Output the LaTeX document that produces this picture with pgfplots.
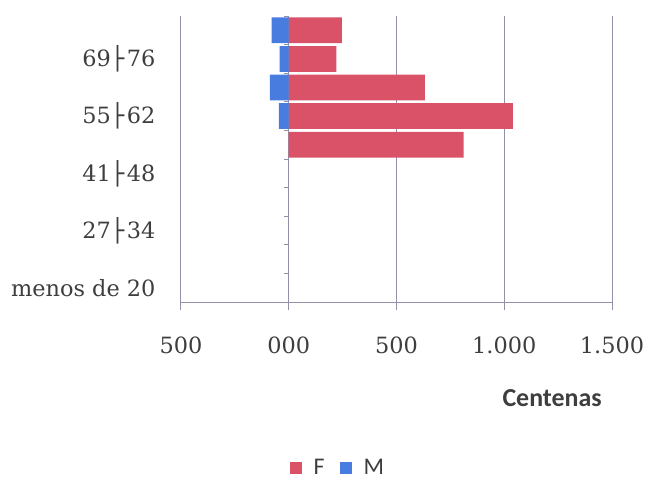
\documentclass[border=0pt]{standalone}
\usepackage{pgfplots}
\pgfplotsset{compat=1.18}
\usepackage{fontspec}
\setmainfont{DejaVu Serif}
\newfontfamily\calibri{Carlito}
\newfontfamily\djs{DejaVu Sans}
\definecolor{cF}{RGB}{218,82,104}
\definecolor{cM}{RGB}{72,124,222}
\definecolor{gridc}{RGB}{145,145,170}
\definecolor{labc}{RGB}{62,62,62}
\newcommand{\rg}{{\djs ├}\kern2.5bp}
\begin{document}
\begin{tikzpicture}
\useasboundingbox (-181bp,-178bp) rectangle (466bp,302bp);
\begin{axis}[
  at={(0,0)}, anchor=south west,
  scale only axis, width=431bp, height=286bp,
  xmin=-500, xmax=1500, ymin=0, ymax=10,
  xbar, bar width=0.9, bar shift=0pt,
  axis x line*=bottom, axis y line*=left,
  axis line style={gridc, line width=1bp, -},
  xtick={-500,0,500,1000,1500},
  xticklabels={500,000,500,1.000,1.500},
  xtick align=outside,
  x tick style={gridc, line width=1bp},
  major tick length=8bp,
  xmajorgrids, grid style={gridc, line width=1bp},
  ytick={0.5,2.5,4.5,6.5,8.5},
  yticklabels={menos de 20,27\rg34,41\rg48,55\rg62,69\rg76},
  y tick style={draw=none},
  tick label style={font=\fontsize{22.5}{27}\selectfont, text=labc},
  xticklabel style={yshift=-23bp},
  yticklabel style={xshift=-14bp},
  xlabel={Centenas},
  xlabel style={at={(axis description cs:0.861,-0.336)}, anchor=center,
    font=\calibri\bfseries\fontsize{26}{30}\selectfont, text=labc},
  legend style={at={(axis description cs:0.364,-0.58)}, anchor=center,
    draw=none, fill=none, legend columns=-1,
    font=\calibri\fontsize{24}{28}\selectfont, text=labc,
    /tikz/every even column/.append style={column sep=13bp}},
  legend image code/.code={\fill[#1, draw=none] (0bp,-6bp) rectangle (12bp,6bp); \path[draw=none, fill=none] (22bp,0bp);},
]
\pgfplotsinvokeforeach{0,...,10}{\draw[gridc, line width=1bp] (axis cs:0,#1) -- ++(-5bp,0bp);}
\addplot[fill=cF, draw=none] coordinates {(812,5.5) (1040,6.5) (632,7.5) (221,8.5) (246,9.5)};
\addlegendentry{F}
\addplot[fill=cM, draw=none] coordinates {(-46,6.5) (-88,7.5) (-42,8.5) (-79,9.5)};
\addlegendentry{M}
\end{axis}
\end{tikzpicture}
\end{document}
